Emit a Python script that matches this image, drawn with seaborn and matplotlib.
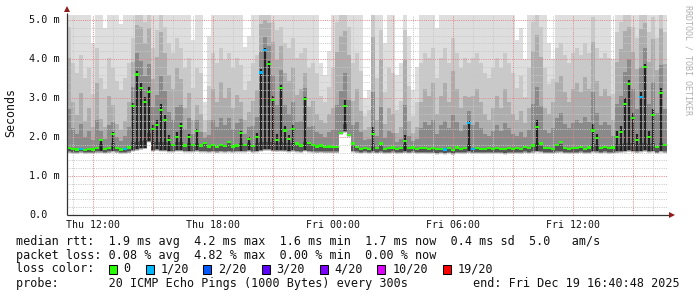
import numpy as np
import pandas as pd
import matplotlib
matplotlib.use("Agg")
import matplotlib.pyplot as plt
import seaborn as sns
from matplotlib.patches import Rectangle
from matplotlib.path import Path

# ---------------- data ----------------
START_H = 10 + 40 / 60 + 48 / 3600   # Thu 10:40:48, hours since Thu 00:00
STEP_H = 0.2                          # one column = 12 minutes

median_ms = [
    1.72, 1.70, 1.68, 1.69, 1.67, 1.70, 1.68, 1.71, 1.92, 1.69,
    1.72, 2.07, 1.72, 1.68, 1.70, 1.73, 2.80, 3.60, 3.26, 2.90,
    3.15, 2.20, 2.30, 2.70, 2.43, 1.92, 1.80, 2.00, 2.28, 1.78,
    2.00, 1.80, 2.15, 1.78, 1.85, 1.76, 1.79, 1.75, 1.80, 1.77,
    1.87, 1.76, 1.78, 2.10, 1.80, 1.95, 1.77, 2.00, 3.65, 4.23,
    3.87, 2.95, 1.93, 3.26, 2.17, 1.95, 2.20, 1.83, 1.78, 2.97,
    1.85, 1.80, 1.76, 1.78, 1.74, 1.76, 1.75, 1.75, 2.10, 2.80,
    2.05, 1.83, 1.74, 1.70, 1.72, 1.70, 2.07, 1.72, 1.83, 1.70,
    1.71, 1.73, 1.70, 1.72, 1.90, 1.71, 1.73, 1.70, 1.71, 1.72,
    1.70, 1.72, 1.69, 1.70, 1.68, 1.72, 1.67, 1.73, 1.70, 1.71,
    2.36, 1.70, 1.72, 1.69, 1.70, 1.72, 1.70, 1.71, 1.70, 1.69,
    1.71, 1.70, 1.72, 1.70, 1.74, 1.72, 1.78, 2.26, 1.83, 1.72,
    1.71, 1.70, 1.80, 1.88, 1.72, 1.70, 1.71, 1.72, 1.74, 1.70,
    1.73, 2.17, 1.97, 1.72, 1.74, 1.71, 1.73, 2.00, 2.12, 2.85,
    3.36, 2.48, 1.93, 3.03, 3.80, 2.00, 2.56, 1.75, 3.12, 1.80,
]

ping_max_ms = [
    5.2, 5.2, 5.2, 5.2, 5.2, 5.2, 4.4, 5.2, 5.2, 4.8,
    5.2, 5.2, 5.2, 4.9, 5.2, 5.2, 5.2, 5.2, 5.2, 5.2,
    5.2, 5.2, 5.2, 5.2, 5.2, 5.2, 5.2, 5.2, 5.2, 5.2,
    5.2, 4.5, 5.2, 5.2, 2.9, 4.6, 5.2, 5.2, 5.2, 5.2,
    5.2, 5.2, 5.2, 5.2, 4.3, 4.6, 5.2, 5.2, 5.2, 5.2,
    5.2, 5.2, 5.2, 5.2, 5.2, 5.2, 5.2, 5.2, 5.2, 5.2,
    5.2, 5.2, 5.2, 3.9, 3.6, 4.2, 5.2, 5.2, 5.2, 5.2,
    5.2, 5.2, 5.2, 5.2, 3.0, 3.2, 5.2, 5.2, 5.2, 4.4,
    5.2, 5.2, 3.6, 3.9, 5.2, 4.6, 3.2, 3.8, 5.2, 5.2,
    5.2, 5.2, 4.8, 5.2, 5.2, 5.2, 5.2, 5.2, 5.2, 5.2,
    5.2, 5.2, 5.2, 5.2, 5.2, 5.2, 5.2, 5.2, 5.2, 5.2,
    5.2, 5.2, 4.5, 4.8, 4.0, 5.2, 5.2, 5.2, 5.2, 5.2,
    4.4, 4.0, 5.2, 5.2, 5.2, 5.2, 5.2, 5.2, 5.2, 5.2,
    5.2, 5.2, 5.2, 5.2, 5.2, 5.2, 4.0, 5.2, 5.2, 5.2,
    5.2, 5.2, 5.2, 5.2, 5.2, 5.2, 5.2, 5.2, 5.2, 5.2,
]

ping_upper_ms = [
    4.6, 3.2, 2.8, 3.5, 2.6, 3.0, 2.4, 3.8, 2.6, 2.4,
    3.4, 3.0, 2.5, 2.3, 2.6, 3.2, 4.2, 5.2, 5.2, 4.8,
    5.2, 3.8, 4.5, 5.2, 4.6, 4.0, 3.6, 4.2, 3.8, 3.0,
    3.4, 2.6, 3.0, 2.8, 2.2, 2.6, 3.6, 3.2, 3.8, 3.3,
    3.6, 3.0, 3.4, 3.1, 2.6, 2.8, 3.2, 3.5, 5.2, 5.2,
    5.2, 4.8, 4.5, 4.6, 4.0, 3.8, 4.2, 3.4, 3.6, 3.8,
    3.0, 3.2, 2.8, 2.6, 2.5, 2.8, 3.0, 4.8, 5.2, 5.2,
    4.6, 3.2, 3.6, 2.9, 2.3, 2.4, 5.2, 2.6, 4.5, 2.5,
    3.0, 2.8, 2.2, 2.4, 4.5, 2.6, 2.2, 2.4, 3.2, 3.6,
    3.4, 3.8, 2.8, 3.4, 3.8, 3.2, 4.2, 3.6, 3.0, 3.4,
    3.2, 3.4, 3.6, 3.2, 2.8, 2.6, 3.0, 3.4, 3.0, 3.6,
    3.2, 2.8, 2.6, 2.9, 2.5, 3.0, 4.8, 5.2, 4.6, 3.0,
    2.8, 3.2, 3.8, 4.0, 3.5, 3.2, 3.6, 3.8, 3.5, 4.0,
    3.6, 5.0, 3.8, 3.4, 3.6, 3.4, 2.6, 4.4, 4.8, 5.2,
    5.2, 4.6, 4.2, 5.2, 5.2, 4.4, 5.0, 4.2, 5.2, 4.4,
]

ping_min_ms = [
    1.58, 1.57, 1.56, 1.58, 1.56, 1.57, 1.56, 1.58, 1.58, 1.57,
    1.58, 1.60, 1.58, 1.56, 1.57, 1.58, 1.62, 1.64, 1.66, 1.68,
    1.85, 1.62, 1.64, 1.62, 1.62, 1.60, 1.60, 1.62, 1.62, 1.60,
    1.60, 1.60, 1.61, 1.60, 1.60, 1.59, 1.60, 1.58, 1.60, 1.59,
    1.60, 1.59, 1.60, 1.60, 1.60, 1.61, 1.59, 1.60, 1.62, 1.64,
    1.64, 1.62, 1.61, 1.62, 1.61, 1.60, 1.61, 1.60, 1.59, 1.62,
    1.60, 1.59, 1.58, 1.59, 1.58, 1.58, 1.58, 1.58, 2.05, 2.10,
    2.00, 1.60, 1.58, 1.57, 1.58, 1.57, 1.58, 1.57, 1.58, 1.56,
    1.57, 1.58, 1.56, 1.57, 1.58, 1.57, 1.58, 1.56, 1.57, 1.57,
    1.56, 1.57, 1.55, 1.56, 1.55, 1.57, 1.54, 1.57, 1.56, 1.56,
    1.58, 1.56, 1.57, 1.56, 1.56, 1.57, 1.56, 1.57, 1.56, 1.55,
    1.56, 1.56, 1.57, 1.56, 1.58, 1.57, 1.58, 1.60, 1.59, 1.57,
    1.57, 1.56, 1.58, 1.59, 1.57, 1.56, 1.57, 1.57, 1.58, 1.56,
    1.57, 1.59, 1.58, 1.57, 1.58, 1.56, 1.57, 1.58, 1.59, 1.60,
    1.61, 1.60, 1.58, 1.60, 1.61, 1.59, 1.60, 1.57, 1.60, 1.58,
]

lost_pings = [
    0, 0, 0, 1, 0, 0, 0, 0, 0, 0,
    0, 0, 0, 0, 1, 0, 0, 0, 0, 0,
    0, 0, 0, 0, 0, 0, 0, 0, 0, 0,
    0, 0, 0, 0, 0, 0, 0, 0, 0, 0,
    0, 0, 0, 0, 0, 0, 0, 0, 1, 1,
    0, 0, 0, 0, 0, 0, 0, 0, 0, 0,
    0, 0, 0, 0, 0, 0, 0, 0, 0, 0,
    0, 0, 0, 0, 0, 0, 0, 0, 0, 0,
    0, 0, 0, 0, 0, 0, 0, 0, 0, 0,
    0, 0, 0, 0, 1, 0, 0, 0, 0, 0,
    1, 1, 0, 0, 0, 0, 0, 0, 0, 0,
    0, 0, 0, 0, 0, 0, 0, 0, 0, 0,
    0, 0, 0, 0, 0, 0, 0, 0, 0, 0,
    0, 0, 0, 0, 0, 0, 0, 0, 0, 0,
    0, 0, 0, 1, 0, 0, 0, 0, 0, 0,
]

x_tick_hours = [12, 18, 24, 30, 36]
x_tick_labels = ["Thu 12:00", "Thu 18:00", "Fri 00:00", "Fri 06:00", "Fri 12:00"]
y_tick_values = [0, 1, 2, 3, 4, 5]
y_tick_labels = ["0.0", "1.0 m", "2.0 m", "3.0 m", "4.0 m", "5.0 m"]

loss_levels = [0, 1, 2, 3, 4, 10, 19]
loss_labels = ["0", "1/20", "2/20", "3/20", "4/20", "10/20", "19/20"]
loss_colors = ["#26ff00", "#00b8ff", "#0059ff", "#5e00ff", "#7e00ff", "#dd00ff", "#ff0000"]

legend_rows = [
    "median rtt:  1.9 ms avg  4.2 ms max  1.6 ms min  1.7 ms now  0.4 ms sd  5.0   am/s",
    "packet loss: 0.08 % avg  4.82 % max  0.00 % min  0.00 % now",
]
probe_text = "probe:       20 ICMP Echo Pings (1000 Bytes) every 300s"
end_text = "end: Fri Dec 19 16:40:48 2025"

# ---------------- figure ----------------
sns.set_theme(style="white")
plt.rcParams["font.family"] = ["DejaVu Sans Mono", "DejaVu Sans"]

W, H = 697, 297
fig = plt.figure(figsize=(W / 100, H / 100), dpi=100, facecolor="white")
ax = fig.add_axes([67 / W, (H - 215) / H, 600 / W, 200 / H])
ax.set_facecolor("white")

N = len(median_ms)
t_edges = START_H + STEP_H * np.arange(N + 1)
t_mid = t_edges[:-1] + STEP_H / 2

lo = np.array(ping_min_ms)
hi = np.array(ping_max_ms)
mid = np.minimum(np.array(ping_upper_ms), hi)
med = np.array(median_ms)


def ext(a):
    return np.append(a, a[-1])


# smoke: outer pings lightest, inner pings darker
layers = [
    ("#dedede", lo, hi),
    ("#c9c9c9", lo + 0.01, mid + (hi - mid) * 0.35),
    ("#adadad", lo + 0.02, med + (mid - med) * 0.80),
    ("#8a8a8a", lo + 0.03, med + (mid - med) * 0.35),
    ("#555555", lo + 0.05, np.minimum(med + 0.03, lo + 0.24)),
]
for col, a, b in layers:
    b = np.maximum(b, a)
    ax.fill_between(t_edges, ext(a), ext(b), step="post", color=col,
                    linewidth=0, antialiased=False, zorder=1)

# thin dark core of high-median columns
spike = med > lo + 0.3
ax.vlines(t_mid[spike], (lo + 0.05)[spike], (med + (mid - med) * 0.06)[spike],
          color="#222222", linewidth=1.6, zorder=2)

# grid
YTOP = 200 / 39
XMIN, XMAX = START_H, START_H + N * STEP_H
dot = (0, (1, 1.2))
for yv in np.arange(0.2, YTOP, 0.2):
    if abs(yv - round(yv)) > 1e-6:
        ax.axhline(yv, color="#c8c8c8", lw=0.72, ls=dot, zorder=3)
for yv in y_tick_values[1:]:
    ax.axhline(yv, color="#e08a8a", lw=0.72, ls=dot, zorder=3)
for h in range(11, 41):
    c = "#e08a8a" if h % 3 == 0 else "#c8c8c8"
    ax.axvline(h, color=c, lw=0.72, ls=dot, zorder=3)

# median markers coloured by loss
df = pd.DataFrame({
    "t": t_mid,
    "median": med,
    "loss": [loss_labels[loss_levels.index(v)] for v in lost_pings],
})
rect = Path([(-1, -0.6), (1, -0.6), (1, 0.6), (-1, 0.6), (-1, -0.6)])
sns.scatterplot(data=df, x="t", y="median", hue="loss",
                palette=dict(zip(loss_labels, loss_colors)),
                marker=rect, s=8, linewidth=0, legend=False, ax=ax, zorder=5)

ax.set_xlim(XMIN, XMAX)
ax.set_ylim(0, YTOP)
ax.set_xlabel("")
ax.set_ylabel("")
ax.set_xticks([])
ax.set_yticks([])
for sp in ax.spines.values():
    sp.set_visible(False)

# axes lines + arrows
ax.plot([0, 1.005], [0, 0], transform=ax.transAxes, color="#333333", lw=0.9,
        clip_on=False, zorder=6, solid_capstyle="butt")
ax.plot([0, 0], [0, 1.01], transform=ax.transAxes, color="#333333", lw=0.9,
        clip_on=False, zorder=6, solid_capstyle="butt")
ax.plot([1.009], [0], transform=ax.transAxes, marker=">", ms=4.2, color="#8e1c1c",
        clip_on=False, zorder=7, markeredgewidth=0)
ax.plot([0], [1.03], transform=ax.transAxes, marker="^", ms=4.2, color="#8e1c1c",
        clip_on=False, zorder=7, markeredgewidth=0)

# tick labels
ytr = ax.get_yaxis_transform()
for v, lab in zip(y_tick_values, y_tick_labels):
    ax.text((29 - 67) / 600, v, lab, transform=ytr, ha="left", va="center",
            fontsize=7.3, color="#111111")
xtr = ax.get_xaxis_transform()
for h, lab in zip(x_tick_hours, x_tick_labels):
    ax.text(h, -10 / 200, lab, transform=xtr, ha="center", va="center",
            fontsize=7.1, color="#111111")

fig.text(11 / W, 1 - 113 / H, "Seconds", rotation=90, ha="center", va="center",
         fontsize=8.4, color="#111111")
fig.text(688 / W, 1 - 60 / H, "RRDTOOL / TOBI OETIKER", rotation=270,
         ha="center", va="center", fontsize=6.0, color="#b0b0b0")

# legend rows
FS = 8.5
row_y = [241.3, 255.3, 269.0, 283.3]
for s, y in zip(legend_rows, row_y[:2]):
    fig.text(16 / W, 1 - y / H, s, ha="left", va="center", fontsize=FS, color="#111111")
fig.text(16 / W, 1 - row_y[2] / H, "loss color:", ha="left", va="center",
         fontsize=FS, color="#111111")
box_x = [108.7, 146.0, 203.3, 261.7, 320.0, 377.0, 442.7]
txt_x = [123.3, 160.7, 218.3, 276.0, 334.0, 392.7, 457.3]
for bx, tx, c, lab in zip(box_x, txt_x, loss_colors, loss_labels):
    fig.add_artist(Rectangle((bx / W, 1 - 273.5 / H), 8 / W, 8.5 / H,
                             transform=fig.transFigure, facecolor=c,
                             edgecolor="black", linewidth=0.75))
    fig.text(tx / W, 1 - row_y[2] / H, lab, ha="left", va="center",
             fontsize=FS, color="#111111")
fig.text(16 / W, 1 - row_y[3] / H, probe_text, ha="left", va="center",
         fontsize=FS, color="#111111")
fig.text(680 / W, 1 - row_y[3] / H, end_text, ha="right", va="center",
         fontsize=FS, color="#111111")

fig.savefig("out.png", dpi=100, facecolor="white")
